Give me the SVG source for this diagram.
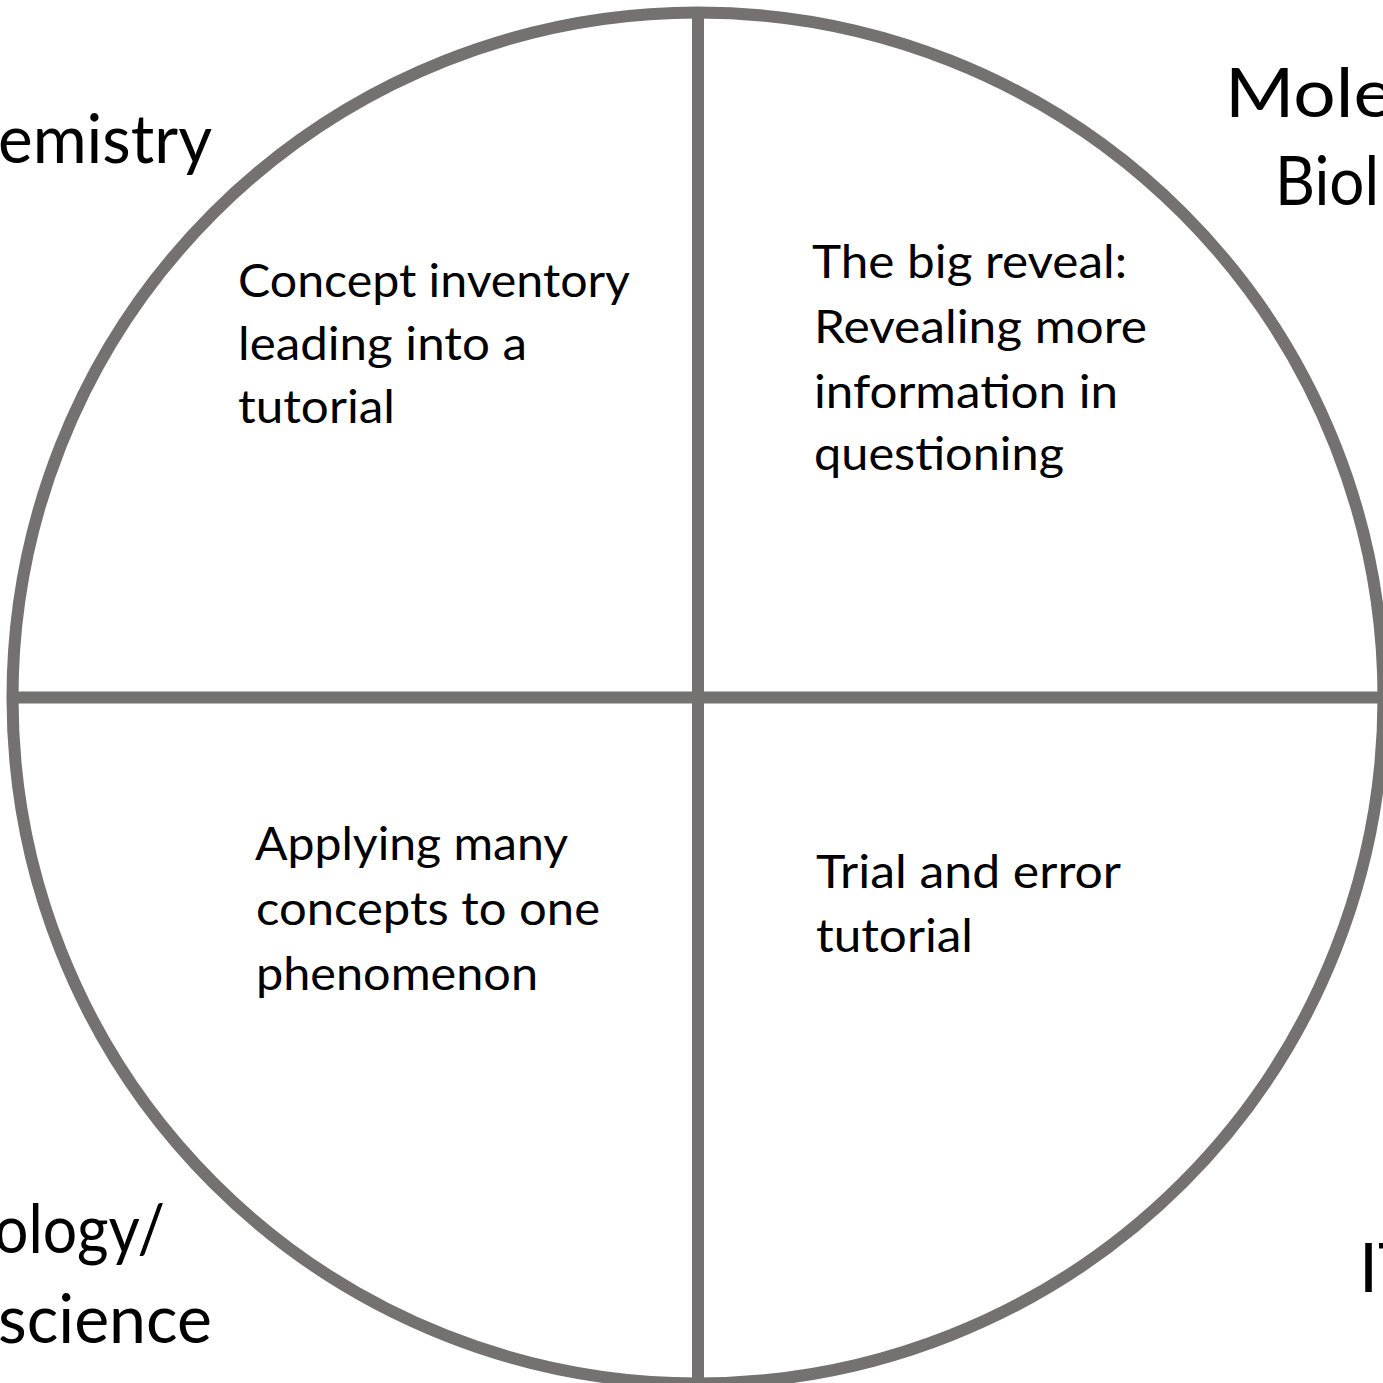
<svg xmlns="http://www.w3.org/2000/svg" width="1383" height="1383" viewBox="0 0 1383 1383">
<style>
.ring{fill:none;stroke:#767171;stroke-width:12}
.t{font-family:Lato,"Open Sans","Liberation Sans",sans-serif;fill:#000}
.s{font-size:46px}
.b{font-size:68px}
</style>
<rect width="1383" height="1383" fill="#fff"/>
<g id="frame">
<circle class="ring" cx="698" cy="698" r="685.5"/>
<line class="ring" x1="698" y1="12" x2="698" y2="1383"/>
<line class="ring" x1="12" y1="697.5" x2="1383" y2="697.5"/>
</g>
<g id="labels">
<text class="t b" x="-2" y="163" textLength="214" lengthAdjust="spacingAndGlyphs">emistry</text>
<text class="t b" x="1225" y="117" textLength="168" lengthAdjust="spacingAndGlyphs">Mole</text>
<text class="t b" x="1275" y="205" textLength="104" lengthAdjust="spacingAndGlyphs">Biol</text>
<text class="t b" x="-6" y="1253" textLength="171" lengthAdjust="spacingAndGlyphs">ology/</text>
<text class="t b" x="-2" y="1343" textLength="214" lengthAdjust="spacingAndGlyphs">science</text>
<text class="t b" x="1359" y="1292">IT</text>
</g>
<g id="q1">
<text class="t s" x="238" y="297" textLength="392" lengthAdjust="spacingAndGlyphs">Concept inventory</text>
<text class="t s" x="238" y="360" textLength="289" lengthAdjust="spacingAndGlyphs">leading into a</text>
<text class="t s" x="238" y="423" textLength="157" lengthAdjust="spacingAndGlyphs">tutorial</text>
</g>
<g id="q2">
<text class="t s" x="812" y="278" textLength="315" lengthAdjust="spacingAndGlyphs">The big reveal:</text>
<text class="t s" x="814" y="343" textLength="333" lengthAdjust="spacingAndGlyphs">Revealing more</text>
<text class="t s" x="814" y="408" textLength="304" lengthAdjust="spacingAndGlyphs">information in</text>
<text class="t s" x="814" y="470" textLength="250" lengthAdjust="spacingAndGlyphs">questioning</text>
</g>
<g id="q3">
<text class="t s" x="255" y="860" textLength="313" lengthAdjust="spacingAndGlyphs">Applying many</text>
<text class="t s" x="256" y="925" textLength="344" lengthAdjust="spacingAndGlyphs">concepts to one</text>
<text class="t s" x="256" y="990" textLength="282" lengthAdjust="spacingAndGlyphs">phenomenon</text>
</g>
<g id="q4">
<text class="t s" x="816" y="888" textLength="305" lengthAdjust="spacingAndGlyphs">Trial and error</text>
<text class="t s" x="816" y="952" textLength="157" lengthAdjust="spacingAndGlyphs">tutorial</text>
</g>
</svg>
